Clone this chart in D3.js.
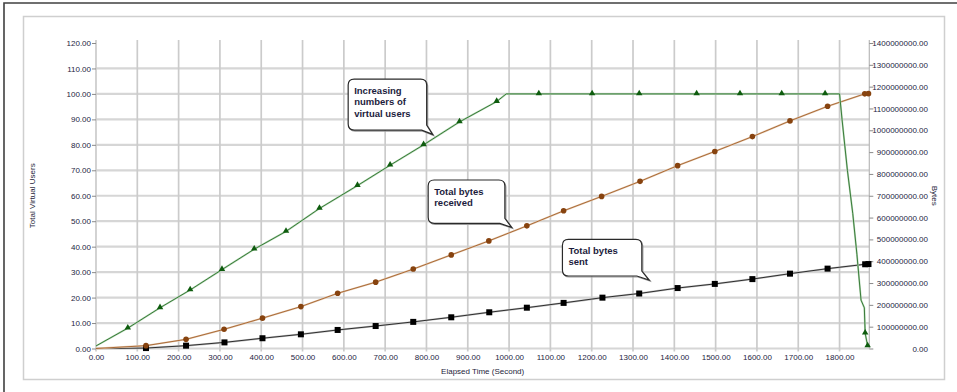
<!DOCTYPE html>
<html><head><meta charset="utf-8">
<script src="https://cdn.jsdelivr.net/npm/d3@7"></script>
<style>
body{margin:0;background:#fff}
svg{display:block;font-family:"Liberation Sans",Arial,sans-serif}
</style>
</head><body>
<svg id="c" width="957" height="392"></svg>
<script>
// ---- data ----
const timeTicks = [0,100,200,300,400,500,600,700,800,900,1000,1100,1200,1300,1400,1500,1600,1700,1800];
const userTicks = [0,10,20,30,40,50,60,70,80,90,100,110,120];
const byteTicks = [0,1e8,2e8,3e8,4e8,5e8,6e8,7e8,8e8,9e8,1e9,1.1e9,1.2e9,1.3e9,1.4e9];

// Total virtual users (left axis) - line vertices
const usersTime   = [0,77,155,228,305,383,460,541,633,712,793,880,970,993,1072,1201,1315,1454,1559,1660,1765,1800,1806,1819,1832,1842,1852,1860,1862,1868];
const usersValues = [1,8,16,23,31,39,46,55,64,72,80,89,97,100,100,100,100,100,100,100,100,100,90,70,53,37,19,16,6,1];
// users markers
const usersMarkerTime   = [77,155,228,305,383,460,541,633,712,793,880,970,1072,1201,1315,1454,1559,1660,1765,1862,1868];
const usersMarkerValues = [8,16,23,31,39,46,55,64,72,80,89,97,100,100,100,100,100,100,100,6,1];

// Total bytes received (right axis)
const recvTime   = [0,121,218,310,403,496,585,677,768,860,951,1043,1132,1224,1317,1408,1498,1589,1680,1771,1861,1870];
const recvValues = [0,13e6,42e6,88e6,139e6,192e6,253e6,304e6,364e6,429e6,493e6,562e6,631e6,697e6,766e6,838e6,903e6,971e6,1043e6,1110e6,1167e6,1168e6];

// Total bytes sent (right axis)
const sentTime   = [0,121,218,311,403,496,585,677,768,860,952,1043,1132,1226,1315,1408,1498,1589,1680,1771,1862,1870];
const sentValues = [0,2e6,13e6,28e6,47e6,65e6,85e6,103e6,122e6,143e6,166e6,187e6,209e6,233e6,252e6,277e6,296e6,318e6,343e6,366e6,386e6,387e6];

// callouts: anchor (time, users) of the pointer tip
const calloutLines = [["Increasing","numbers of","virtual users"],["Total bytes","received"],["Total bytes","sent"]];
const calloutTime  = [815,1006,1339];
const calloutUsers = [84.1,47.6,26.9];

// ---- chart ----
const svg = d3.select('#c');
const x  = d3.scaleLinear().domain([0,1872]).range([96,869.3]);
const yU = d3.scaleLinear().domain([0,120]).range([348.5,43]);
const yB = d3.scaleLinear().domain([0,1.4e9]).range([348.5,43]);
const fmt = d3.format('.2f');
const labelColor = '#25253f';

// outer frame (left & top) and inner panel
svg.append('path').attr('d','M4,392V3H957').attr('fill','none').attr('stroke','#404040').attr('stroke-width',1.6);
svg.append('rect').attr('x',23.5).attr('y',16.5).attr('width',921).attr('height',363)
  .attr('fill','none').attr('stroke','#cfcfcf').attr('stroke-width',1.5);

// grid
const g = svg.append('g');
g.selectAll('line.h').data(userTicks.filter(d=>d<120)).join('line')
  .attr('x1',x.range()[0]).attr('x2',x.range()[1])
  .attr('y1',d=>yU(d)).attr('y2',d=>yU(d))
  .attr('stroke','#d6d6d6').attr('stroke-width',2.2);
g.selectAll('line.v').data(timeTicks).join('line')
  .attr('x1',d=>x(d)).attr('x2',d=>x(d))
  .attr('y1',40).attr('y2',351.5)
  .attr('stroke','#cbcbcb').attr('stroke-width',1.7);
// right axis line
svg.append('line').attr('x1',x.range()[1]).attr('x2',x.range()[1]).attr('y1',40).attr('y2',348.5)
  .attr('stroke','#b8b8b8').attr('stroke-width',1.2);

function styleAxis(sel){
  sel.select('.domain').remove();
  sel.selectAll('.tick line').attr('stroke','#8a8a8a');
  sel.selectAll('.tick text').attr('fill',labelColor).style('font-size','8px')
     .style('font-family','"Liberation Sans",Arial,sans-serif');
}
svg.append('g').attr('transform',`translate(${x.range()[0]},0)`)
  .call(d3.axisLeft(yU).tickValues(userTicks).tickFormat(fmt).tickSize(4).tickPadding(1))
  .call(styleAxis);
svg.append('g').attr('transform',`translate(0,${yU(0)})`)
  .call(d3.axisBottom(x).tickValues(timeTicks).tickFormat(fmt).tickSize(0).tickPadding(6))
  .call(styleAxis);
const ra = svg.append('g').attr('transform',`translate(${x.range()[1]},0)`)
  .call(d3.axisRight(yB).tickValues(byteTicks).tickFormat(fmt).tickSize(4).tickPadding(4))
  .call(styleAxis);
ra.selectAll('.tick text').attr('text-anchor','end').attr('x',58.7);

// axis titles
svg.append('text').attr('transform',`translate(35,${(yU(0)+yU(120))/2}) rotate(-90)`)
  .attr('text-anchor','middle').attr('fill','#25253a').style('font-size','8px').text('Total Virtual Users');
svg.append('text').attr('x',(x.range()[0]+x.range()[1])/2).attr('y',373.5)
  .attr('text-anchor','middle').attr('fill','#25253a').style('font-size','8px').text('Elapsed Time (Second)');
svg.append('text').attr('transform',`translate(932,${(yU(0)+yU(120))/2}) rotate(90)`)
  .attr('text-anchor','middle').attr('fill','#25253a').style('font-size','8px').text('Bytes');

// lines
const lineU = d3.line().x((d,i)=>x(usersTime[i])).y(d=>yU(d));
const lineR = d3.line().x((d,i)=>x(recvTime[i])).y(d=>yB(d));
const lineS = d3.line().x((d,i)=>x(sentTime[i])).y(d=>yB(d));

svg.append('path').attr('d',lineS(sentValues)).attr('fill','none').attr('stroke','#c4c4c4').attr('stroke-width',2);
svg.append('path').attr('d',lineS(sentValues)).attr('fill','none').attr('stroke','#1e1e1e').attr('stroke-width',0.9);
svg.append('path').attr('d',lineR(recvValues)).attr('fill','none').attr('stroke','#e6cdb4').attr('stroke-width',1.9);
svg.append('path').attr('d',lineR(recvValues)).attr('fill','none').attr('stroke','#a4602a').attr('stroke-width',0.9);
svg.append('path').attr('d',lineU(usersValues)).attr('fill','none').attr('stroke','#b9d9b9').attr('stroke-width',1.9);
svg.append('path').attr('d',lineU(usersValues)).attr('fill','none').attr('stroke','#2a702a').attr('stroke-width',0.9);

// markers
svg.selectAll('rect.sq').data(sentValues.slice(1)).join('rect')
  .attr('x',(d,i)=>x(sentTime[i+1])-3).attr('y',d=>yB(d)-3)
  .attr('width',6).attr('height',6).attr('fill','#000');
svg.selectAll('circle.rc').data(recvValues.slice(1)).join('circle')
  .attr('cx',(d,i)=>x(recvTime[i+1])).attr('cy',d=>yB(d)).attr('r',2.8).attr('fill','#87430f');
const tri = d3.symbol().type(d3.symbolTriangle).size(18);
svg.selectAll('path.tr').data(usersMarkerValues).join('path')
  .attr('d',tri).attr('transform',(d,i)=>`translate(${x(usersMarkerTime[i])},${yU(d)-0.5})`)
  .attr('fill','#0e5c0e');

// callouts
const boxes = [
  {dx:-84.5, dy:-55.3, w:78.5, h:51},
  {dx:-83.4, dy:-47.3, w:76.7, h:43.3},
  {dx:-86.7, dy:-40.7, w:79.4, h:36.7}
];
calloutLines.forEach((lines,k)=>{
  const tx = x(calloutTime[k]), ty = yU(calloutUsers[k]);
  const b = boxes[k];
  const L = tx+b.dx, T = ty+b.dy, R = L+b.w, B = T+b.h, r = 6;
  const p = d3.path();
  p.moveTo(L+r,T); p.lineTo(R-r,T); p.quadraticCurveTo(R,T,R,T+r);
  p.lineTo(R,B-5); p.lineTo(tx,ty); p.lineTo(R-5,B);
  p.lineTo(L+r,B); p.quadraticCurveTo(L,B,L,B-r);
  p.lineTo(L,T+r); p.quadraticCurveTo(L,T,L+r,T); p.closePath();
  const cg = svg.append('g');
  cg.append('path').attr('d',p.toString()).attr('transform','translate(1,1)')
    .attr('fill','none').attr('stroke','#9a9a9a').attr('stroke-width',1.2);
  cg.append('path').attr('d',p.toString()).attr('fill','#fff').attr('stroke','#2a2a2a').attr('stroke-width',1.2);
  cg.selectAll('text').data(lines).join('text')
    .attr('x',L+6).attr('y',(d,i)=>T+14.5+i*11.6)
    .attr('fill','#1c1c3c').style('font-size','9.5px').style('font-weight','bold').text(d=>d);
});
</script>
</body></html>
